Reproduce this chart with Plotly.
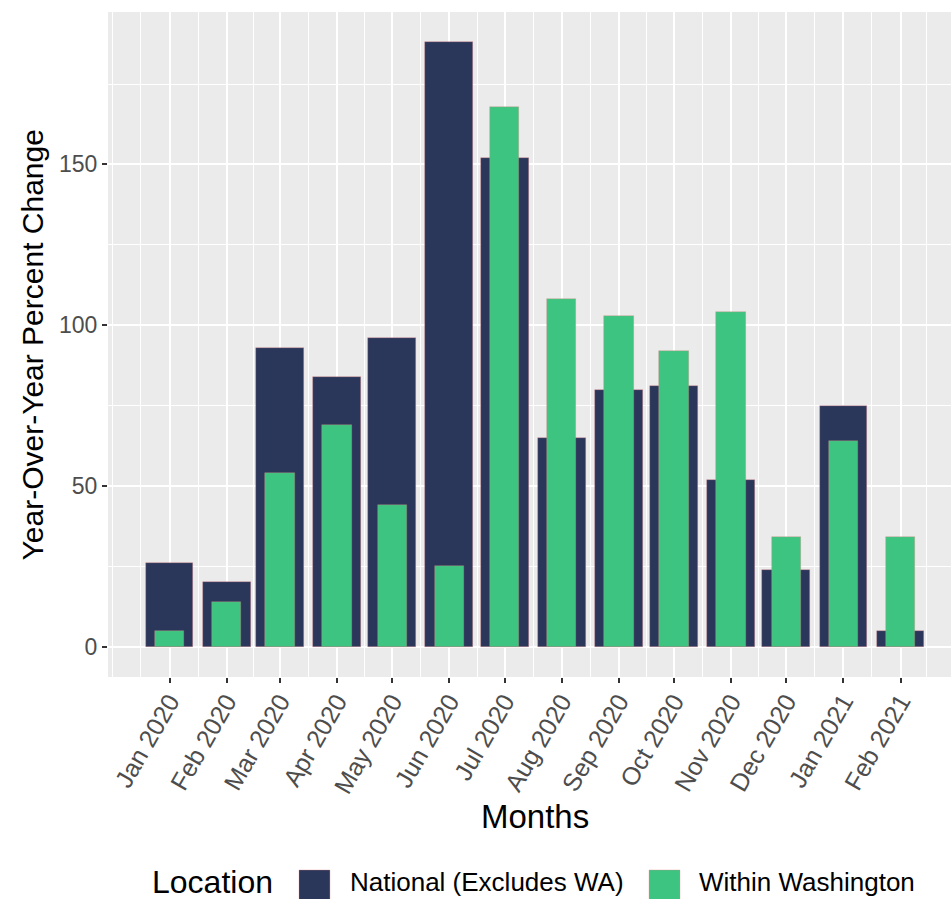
import plotly.graph_objects as go
import pandas as pd

# ---- data ----
months = ["2020-01-01", "2020-02-01", "2020-03-01", "2020-04-01", "2020-05-01",
          "2020-06-01", "2020-07-01", "2020-08-01", "2020-09-01", "2020-10-01",
          "2020-11-01", "2020-12-01", "2021-01-01", "2021-02-01"]
month_labels = ["Jan 2020", "Feb 2020", "Mar 2020", "Apr 2020", "May 2020",
                "Jun 2020", "Jul 2020", "Aug 2020", "Sep 2020", "Oct 2020",
                "Nov 2020", "Dec 2020", "Jan 2021", "Feb 2021"]
national = [26, 20, 93, 84, 96, 188, 152, 65, 80, 81, 52, 24, 75, 5]
washington = [5, 14, 54, 69, 44, 25, 168, 108, 103, 92, 104, 34, 64, 34]
series_names = ["National (Excludes WA)", "Within Washington"]
legend_title = "Location"
y_ticks = [0, 50, 100, 150]
y_minor = [25, 75, 125, 175]

# ---- styles ----
NAVY = "#2A375A"
GREEN = "#3DC480"
OUTLINE = "rgba(235,130,130,0.55)"
FONT = "Liberation Sans, Arial, sans-serif"
DAY_MS = 86400000

fig = go.Figure()
fig.add_bar(x=months, y=national, width=26 * DAY_MS, name=series_names[0],
            marker=dict(color=NAVY, line=dict(color=OUTLINE, width=0.6)),
            showlegend=False)
fig.add_bar(x=months, y=washington, width=16 * DAY_MS, name=series_names[1],
            marker=dict(color=GREEN, line=dict(color=OUTLINE, width=0.6)),
            showlegend=False)

# minor gridlines: midpoints between month starts, plus the month start before the data
grid_months = pd.date_range("2019-12-01", "2021-03-01", freq="MS")
mids = grid_months[:-1] + (grid_months[1:] - grid_months[:-1]) / 2
minor_vals = [d.strftime("%Y-%m-%d %H:%M") for d in list(mids) + [grid_months[0]]]

fig.update_layout(
    template="none",
    width=951, height=899,
    margin=dict(l=108, r=0, t=12, b=222, autoexpand=False),
    paper_bgcolor="white", plot_bgcolor="#EBEBEB",
    barmode="overlay", bargap=0,
    font=dict(family=FONT, color="#4D4D4D"),
    showlegend=False,
    xaxis=dict(
        type="date", automargin=False,
        range=["2019-11-28 14:00", "2021-02-28 10:00"],
        tickmode="array", tickvals=months, ticktext=month_labels,
        tickangle=-60, tickfont=dict(size=25, color="#4D4D4D"),
        ticklabelstandoff=-6,
        ticks="outside", ticklen=5, tickwidth=1.5, tickcolor="#333333",
        showgrid=True, gridcolor="white", gridwidth=2,
        minor=dict(tickmode="array", tickvals=minor_vals, showgrid=True,
                   gridcolor="white", gridwidth=1, ticks=""),
        zeroline=False, showline=False,
    ),
    yaxis=dict(
        automargin=False,
        range=[-9.4, 197.4],
        tickmode="array", tickvals=y_ticks,
        tickfont=dict(size=23, color="#4D4D4D"),
        ticks="outside", ticklen=5, tickwidth=1.5, tickcolor="#333333",
        showgrid=True, gridcolor="white", gridwidth=2,
        minor=dict(tickmode="array", tickvals=y_minor, showgrid=True,
                   gridcolor="white", gridwidth=1, ticks=""),
        zeroline=False, showline=False,
    ),
)

# axis titles
fig.add_annotation(text="Months", xref="paper", yref="paper", x=0.5065, y=-0.2105,
                   xanchor="center", yanchor="middle", showarrow=False,
                   font=dict(size=33, color="black", family=FONT))
fig.add_annotation(text="Year-Over-Year Percent Change", xref="paper", yref="paper",
                   x=-0.089, y=0.5, textangle=-90, xanchor="center", yanchor="middle",
                   showarrow=False, font=dict(size=30, color="black", family=FONT))

# legend (drawn manually to match the large keys)
leg_y = -0.308
fig.add_annotation(text=legend_title, xref="paper", yref="paper", x=0.0498, y=leg_y,
                   xanchor="left", yanchor="middle", showarrow=False,
                   font=dict(size=32, color="black", family=FONT))
key_x = [(0.2266, 0.2633), (0.6418, 0.6785)]
label_x = [0.2847, 0.6987]
for (x0, x1), lx, name, col in zip(key_x, label_x, series_names, [NAVY, GREEN]):
    fig.add_shape(type="rect", xref="paper", yref="paper", x0=x0, x1=x1,
                  y0=-0.2902, y1=-0.3368, fillcolor=col,
                  line=dict(color=OUTLINE, width=0.6))
    fig.add_annotation(text=name, xref="paper", yref="paper", x=lx, y=leg_y,
                       xanchor="left", yanchor="middle", showarrow=False,
                       font=dict(size=26, color="black", family=FONT))

fig.write_html("out.html", config={"displayModeBar": False},
               post_script="document.body.style.margin='0';document.body.style.overflow='hidden';")
